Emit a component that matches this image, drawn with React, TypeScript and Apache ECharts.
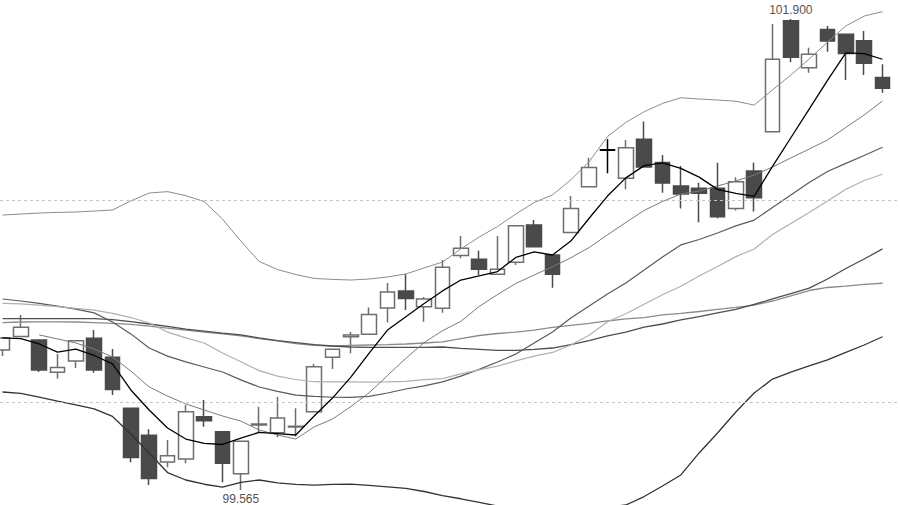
import React, { useEffect, useRef } from 'react';
import * as echarts from 'echarts';

// bar positions (0-based bar numbers along the time axis)
const categories = [
  0, 1, 2, 3, 4, 5, 6, 7, 8, 9,
  10, 11, 12, 13, 14, 15, 16, 17, 18, 19,
  20, 21, 22, 23, 24, 25, 26, 27, 28, 29,
  30, 31, 32, 33, 34, 35, 36, 37, 38, 39,
  40, 41, 42, 43, 44, 45, 46, 47, 48,
];

const opens = [
  100.259, 100.326, 100.309, 100.149, 100.205, 100.317, 100.223, 99.970, 99.837, 99.704,
  99.719, 99.929, 99.854, 99.646, 99.888, 99.849, 99.878, 99.953, 100.223, 100.325,
  100.337, 100.467, 100.552, 100.474, 100.466, 100.727, 100.709, 100.634, 100.694, 100.879,
  100.730, 100.842, 101.068, 101.249, 101.110, 101.303, 101.188, 101.072, 101.061, 101.061,
  100.961, 101.146, 101.341, 101.891, 101.658, 101.848, 101.824, 101.792, 101.609,
];
const closes = [
  100.319, 100.372, 100.160, 100.173, 100.305, 100.160, 100.064, 99.726, 99.623, 99.735,
  99.953, 99.909, 99.698, 99.807, 99.893, 99.922, 99.881, 100.176, 100.263, 100.334,
  100.435, 100.547, 100.515, 100.512, 100.669, 100.763, 100.659, 100.659, 100.875, 100.771,
  100.634, 100.961, 101.163, 101.252, 101.262, 101.166, 101.087, 101.032, 101.036, 100.920,
  101.093, 101.014, 101.700, 101.710, 101.725, 101.790, 101.729, 101.680, 101.556,
];
const lows = [
  100.229, 100.324, 100.150, 100.117, 100.170, 100.147, 100.036, 99.703, 99.590, 99.678,
  99.698, 99.879, 99.604, 99.565, 99.848, 99.827, 99.830, 99.952, 100.165, 100.243,
  100.336, 100.395, 100.457, 100.399, 100.444, 100.714, 100.631, 100.633, 100.680, 100.770,
  100.568, 100.841, 101.067, 101.135, 101.056, 101.165, 101.039, 100.961, 100.892, 100.912,
  100.950, 100.945, 101.340, 101.685, 101.633, 101.737, 101.597, 101.622, 101.534,
];
const highs = [
  100.324, 100.433, 100.309, 100.239, 100.306, 100.358, 100.264, 99.972, 99.866, 99.813,
  99.987, 100.011, 99.854, 99.808, 99.978, 100.028, 99.970, 100.190, 100.264, 100.348,
  100.470, 100.591, 100.636, 100.522, 100.705, 100.824, 100.751, 100.824, 100.876, 100.903,
  100.730, 101.022, 101.212, 101.305, 101.300, 101.391, 101.226, 101.171, 101.088, 101.187,
  101.115, 101.187, 101.875, 101.900, 101.757, 101.865, 101.824, 101.840, 101.675,
];

const ma5 = [
  100.319, 100.316, 100.289, 100.249, 100.264, 100.232, 100.190, 100.061, 99.962, 99.873,
  99.818, 99.796, 99.791, 99.823, 99.851, 99.845, 99.838, 99.932, 100.021, 100.125,
  100.244, 100.358, 100.424, 100.490, 100.552, 100.606, 100.626, 100.648, 100.718, 100.745,
  100.730, 100.799, 100.912, 101.022, 101.112, 101.173, 101.186, 101.159, 101.116, 101.055,
  101.035, 101.021, 101.169, 101.311, 101.453, 101.595, 101.732, 101.728, 101.700,
];
const ma10 = [
  null, null, 100.334, 100.314, 100.294, 100.264, 100.225, 100.155, 100.076, 100.031,
  99.992, 99.962, 99.932, 99.907, 99.863, 99.838, 99.818, 99.878, 99.917, 99.979,
  100.047, 100.133, 100.218, 100.296, 100.355, 100.401, 100.475, 100.534, 100.589, 100.631,
  100.672, 100.716, 100.767, 100.830, 100.891, 100.951, 100.995, 101.032, 101.047, 101.072,
  101.097, 101.126, 101.166, 101.211, 101.255, 101.300, 101.362, 101.424, 101.493,
];
const bollUpper = [
  100.928, 100.933, 100.938, 100.941, 100.943, 100.948, 100.953, 100.998, 101.037, 101.044,
  101.024, 100.995, 100.908, 100.799, 100.698, 100.658, 100.633, 100.614, 100.609, 100.606,
  100.611, 100.621, 100.636, 100.666, 100.695, 100.760, 100.819, 100.871, 100.933, 100.990,
  101.028, 101.102, 101.193, 101.317, 101.387, 101.440, 101.481, 101.509, 101.503, 101.498,
  101.492, 101.473, 101.548, 101.622, 101.701, 101.785, 101.865, 101.914, 101.936,
];
const bollMid = [
  100.490, 100.488, 100.482, 100.474, 100.465, 100.457, 100.441, 100.420, 100.393, 100.348,
  100.319, 100.294, 100.244, 100.201, 100.157, 100.130, 100.113, 100.102, 100.101, 100.101,
  100.100, 100.101, 100.104, 100.112, 100.117, 100.141, 100.161, 100.179, 100.205, 100.229,
  100.247, 100.284, 100.332, 100.399, 100.439, 100.486, 100.533, 100.575, 100.626, 100.673,
  100.722, 100.760, 100.832, 100.886, 100.941, 100.998, 101.056, 101.099, 101.130,
];
const bollLower = [
  100.051, 100.044, 100.026, 100.006, 99.987, 99.967, 99.930, 99.843, 99.749, 99.652,
  99.615, 99.594, 99.580, 99.603, 99.615, 99.601, 99.593, 99.590, 99.593, 99.595,
  99.588, 99.581, 99.573, 99.558, 99.538, 99.522, 99.504, 99.486, 99.476, 99.469,
  99.466, 99.466, 99.471, 99.481, 99.491, 99.533, 99.585, 99.640, 99.749, 99.848,
  99.952, 100.046, 100.115, 100.150, 100.180, 100.210, 100.247, 100.284, 100.325,
];
const ma30 = [
  100.512, 100.502, 100.490, 100.477, 100.462, 100.443, 100.398, 100.339, 100.269, 100.229,
  100.200, 100.175, 100.150, 100.111, 100.076, 100.054, 100.036, 100.029, 100.025, 100.024,
  100.029, 100.046, 100.066, 100.081, 100.101, 100.130, 100.163, 100.200, 100.239, 100.294,
  100.348, 100.418, 100.477, 100.537, 100.591, 100.656, 100.720, 100.780, 100.807, 100.839,
  100.874, 100.903, 100.965, 101.027, 101.089, 101.144, 101.184, 101.223, 101.264,
];
const ma60 = [
  100.415, 100.415, 100.415, 100.415, 100.415, 100.415, 100.410, 100.400, 100.388, 100.376,
  100.363, 100.353, 100.343, 100.334, 100.319, 100.306, 100.296, 100.286, 100.279, 100.274,
  100.272, 100.272, 100.272, 100.272, 100.274, 100.267, 100.262, 100.257, 100.257, 100.262,
  100.269, 100.286, 100.306, 100.329, 100.348, 100.373, 100.388, 100.408, 100.425, 100.443,
  100.460, 100.485, 100.512, 100.539, 100.566, 100.611, 100.663, 100.710, 100.760,
];
const ma120 = [
  100.395, 100.398, 100.399, 100.399, 100.398, 100.395, 100.391, 100.386, 100.378, 100.368,
  100.358, 100.348, 100.339, 100.329, 100.316, 100.304, 100.291, 100.282, 100.279, 100.282,
  100.284, 100.286, 100.289, 100.294, 100.299, 100.316, 100.331, 100.341, 100.348, 100.358,
  100.371, 100.381, 100.391, 100.403, 100.413, 100.420, 100.433, 100.441, 100.450, 100.460,
  100.470, 100.482, 100.502, 100.527, 100.554, 100.569, 100.576, 100.584, 100.590,
];

// dashed price levels
const gridLevels = [100, 101];

const crossIndex = 33;

export default function App() {
  const ref = useRef<HTMLDivElement>(null);

  useEffect(() => {
    if (!ref.current) return;
    const chart = echarts.init(ref.current, null, { renderer: 'svg' });

    const candleData = categories.map((x, i) => {
      const v = [x, opens[i], closes[i], lows[i], highs[i]];
      if (i === crossIndex) {
        return { value: v, itemStyle: { color: '#000', borderColor: '#000' } };
      }
      return v;
    });

    const hiVal = Math.max(...highs);
    const hiIdx = highs.indexOf(hiVal);
    const loVal = Math.min(...lows);
    const loIdx = lows.indexOf(loVal);

    const line = (name: string, vals: (number | null)[], color: string, width: number) => ({
      name,
      type: 'line',
      data: categories
        .map((x, i) => [x, vals[i]])
        .filter((p) => p[1] !== null),
      symbol: 'none',
      showSymbol: false,
      smooth: false,
      silent: true,
      lineStyle: { color, width },
      emphasis: { disabled: true },
    });

    chart.setOption({
      animation: false,
      backgroundColor: '#ffffff',
      grid: { left: 0, right: 0, top: 0, bottom: 0, containLabel: false },
      xAxis: {
        type: 'value',
        min: -0.1364,
        max: 48.9545,
        show: false,
        splitLine: { show: false },
      },
      yAxis: {
        type: 'value',
        min: 99.4911,
        max: 101.9936,
        show: false,
        splitLine: { show: false },
      },
      series: [
        {
          name: 'K',
          type: 'candlestick',
          data: candleData,
          encode: { x: 0, y: [1, 2, 3, 4] },
          barWidth: 15,
          silent: true,
          z: 2,
          itemStyle: {
            color: '#ffffff',
            color0: '#4a4a4a',
            borderColor: '#6e6e6e',
            borderColor0: '#4a4a4a',
            borderWidth: 1.5,
          },
          markLine: {
            symbol: 'none',
            silent: true,
            label: { show: false },
            lineStyle: { color: '#c4c4c4', type: [3, 3], width: 1 },
            data: gridLevels.map((v) => ({ yAxis: v })),
          },
          markPoint: {
            symbol: 'rect',
            symbolSize: 1,
            silent: true,
            itemStyle: { color: 'rgba(0,0,0,0)' },
            label: {
              show: true,
              color: '#555555',
              fontSize: 12,
              fontFamily: 'Liberation Sans, Arial, sans-serif',
            },
            data: [
              {
                coord: [categories[hiIdx], hiVal],
                value: hiVal,
                label: { position: 'top', distance: 2, formatter: hiVal.toFixed(3) },
              },
              {
                coord: [categories[loIdx], loVal],
                value: loVal,
                label: { position: 'bottom', distance: 2, formatter: loVal.toFixed(3) },
              },
            ],
          },
        },
        line('MA120', ma120, '#8a8a8a', 1.3),
        line('MA60', ma60, '#4e4e4e', 1.3),
        line('MA30', ma30, '#5a5a5a', 1.2),
        line('BOLL-MID', bollMid, '#b0b0b0', 1.2),
        line('BOLL-UP', bollUpper, '#8c8c8c', 1),
        line('BOLL-LOW', bollLower, '#333333', 1.3),
        line('MA10', ma10, '#7a7a7a', 1),
        line('MA5', ma5, '#000000', 1.3),
      ],
    });

    return () => {
      chart.dispose();
    };
  }, []);

  return (
    <div
      ref={ref}
      style={{ position: 'absolute', left: 0, top: 0, width: 900, height: 505, background: '#fff' }}
    />
  );
}
